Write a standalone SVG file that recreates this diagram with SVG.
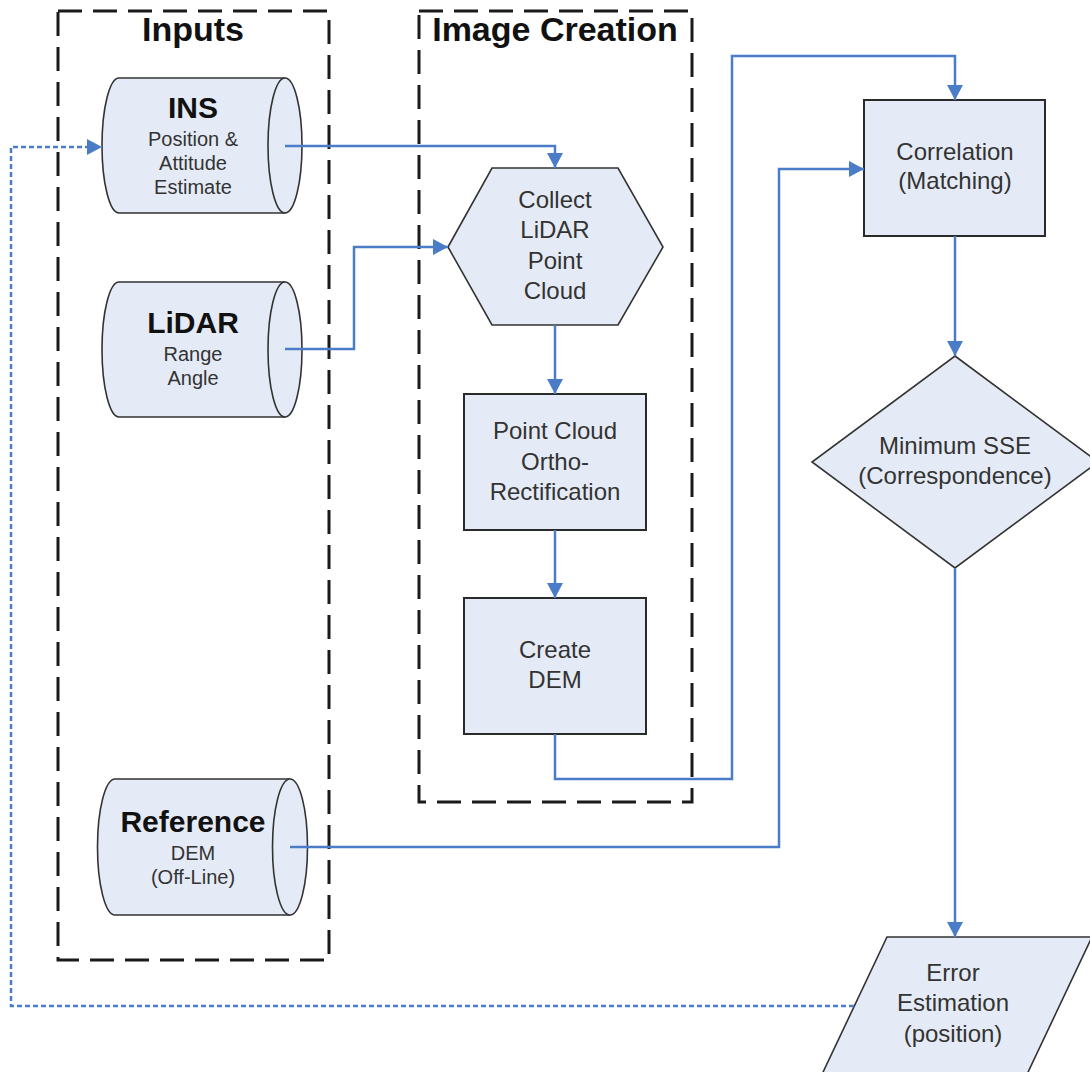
<svg xmlns="http://www.w3.org/2000/svg" width="1090" height="1072" viewBox="0 0 1090 1072">
<style>
.grp{fill:none;stroke:#1a1a1a;stroke-width:3;stroke-dasharray:24 11}
.node{fill:#E5EBF6;stroke:#2a2a2a;stroke-width:2}
.thin{fill:#E5EBF6;stroke:#333;stroke-width:1.6}
.line{fill:none;stroke:#4A7CC7;stroke-width:2.5}
.dot{fill:none;stroke:#4A7CC7;stroke-width:2.5;stroke-dasharray:5 3}
.sec{font-family:"Liberation Sans",Arial,sans-serif;font-weight:bold;font-size:34px;fill:#111;text-anchor:middle}
.bt{font-family:"Liberation Sans",Arial,sans-serif;font-weight:bold;font-size:30px;fill:#111;text-anchor:middle}
.st{font-family:"Liberation Sans",Arial,sans-serif;font-size:20px;fill:#333;text-anchor:middle}
.t{font-family:"Liberation Sans",Arial,sans-serif;font-size:24px;fill:#333;text-anchor:middle}
</style>
<defs>
<marker id="ah" viewBox="0 0 15 16" refX="15" refY="8" markerWidth="15" markerHeight="16" markerUnits="userSpaceOnUse" orient="auto">
<path d="M0,0 L15,8 L0,16 Z" fill="#4A7CC7"/>
</marker>
</defs>

<g id="group-inputs">
<rect class="grp" x="58" y="11" width="271" height="949"/>
<text class="sec" x="193" y="41">Inputs</text>
</g>
<g id="group-image-creation">
<rect class="grp" x="419" y="11" width="273" height="791"/>
<text class="sec" x="555" y="41">Image Creation</text>
</g>

<g id="node-ins">
<path class="thin" d="M119,78 H285 A17,67.5 0 0 1 285,213 H119 A17,67.5 0 0 1 119,78 Z"/>
<path class="thin" d="M285,78 A17,67.5 0 0 0 285,213"/>
<text class="bt" x="193" y="118">INS</text>
<text class="st" x="193" y="146">Position &amp;</text>
<text class="st" x="193" y="170">Attitude</text>
<text class="st" x="193" y="194">Estimate</text>
</g>

<g id="node-lidar">
<path class="thin" d="M119,282 H285 A17,67.5 0 0 1 285,417 H119 A17,67.5 0 0 1 119,282 Z"/>
<path class="thin" d="M285,282 A17,67.5 0 0 0 285,417"/>
<text class="bt" x="193" y="333">LiDAR</text>
<text class="st" x="193" y="361">Range</text>
<text class="st" x="193" y="385">Angle</text>
</g>

<g id="node-reference">
<path class="thin" d="M115,779 H290 A17.5,68 0 0 1 290,915 H115 A17.5,68 0 0 1 115,779 Z"/>
<path class="thin" d="M290,779 A17.5,68 0 0 0 290,915"/>
<text class="bt" x="193" y="832">Reference</text>
<text class="st" x="193" y="860">DEM</text>
<text class="st" x="193" y="884">(Off-Line)</text>
</g>

<g id="node-collect">
<polygon class="thin" points="448,247 492,168 618,168 663,247 618,325 492,325"/>
<text class="t" x="555" y="208">Collect</text>
<text class="t" x="555" y="238">LiDAR</text>
<text class="t" x="555" y="269">Point</text>
<text class="t" x="555" y="299">Cloud</text>
</g>

<g id="node-ortho">
<rect class="node" x="464" y="394" width="182" height="136"/>
<text class="t" x="555" y="439">Point Cloud</text>
<text class="t" x="555" y="470">Ortho-</text>
<text class="t" x="555" y="500">Rectification</text>
</g>

<g id="node-create-dem">
<rect class="node" x="464" y="598" width="182" height="136"/>
<text class="t" x="555" y="658">Create</text>
<text class="t" x="555" y="688">DEM</text>
</g>

<g id="node-correlation">
<rect class="node" x="864" y="100" width="181" height="136"/>
<text class="t" x="955" y="160">Correlation</text>
<text class="t" x="955" y="189">(Matching)</text>
</g>

<g id="node-min-sse">
<polygon class="thin" points="955,356 1098,462 955,568 812,462"/>
<text class="t" x="955" y="454">Minimum SSE</text>
<text class="t" x="955" y="484">(Correspondence)</text>
</g>

<g id="node-error">
<polygon class="thin" points="887,937 1092,937 1021,1087 816,1087"/>
<text class="t" x="953" y="981">Error</text>
<text class="t" x="953" y="1011">Estimation</text>
<text class="t" x="953" y="1042">(position)</text>
</g>

<g id="connectors">
<path class="line" d="M285,146 H555 V168" marker-end="url(#ah)"/>
<path class="line" d="M285,349 H354 V247 H448" marker-end="url(#ah)"/>
<path class="line" d="M555,325 V394" marker-end="url(#ah)"/>
<path class="line" d="M555,530 V598" marker-end="url(#ah)"/>
<path class="line" d="M555,734 V779 H732 V56 H955 V100" marker-end="url(#ah)"/>
<path class="line" d="M290,847 H779 V169 H864" marker-end="url(#ah)"/>
<path class="line" d="M955,236 V356" marker-end="url(#ah)"/>
<path class="line" d="M955,568 V937" marker-end="url(#ah)"/>
<path class="dot" d="M854,1006 H11 V147 H102" marker-end="url(#ah)"/>
</g>
</svg>
